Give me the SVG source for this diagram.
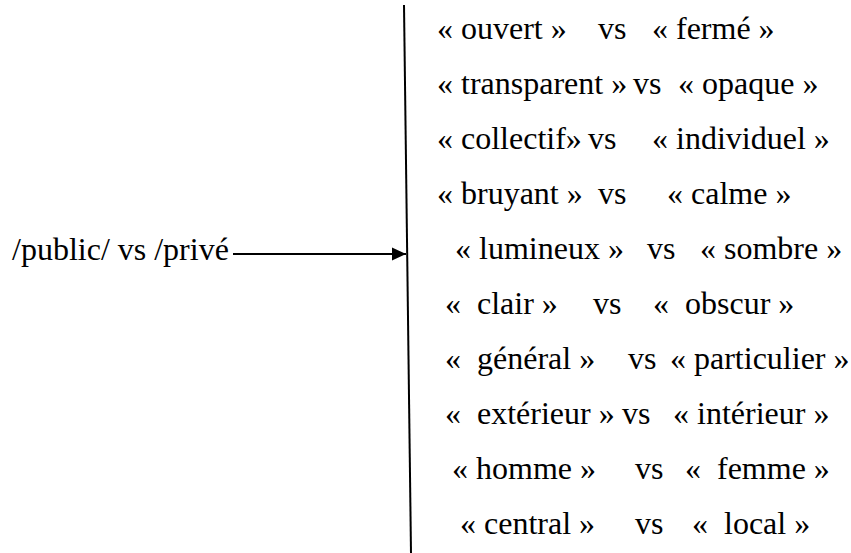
<svg xmlns="http://www.w3.org/2000/svg" width="851" height="553" viewBox="0 0 851 553">
<style>
.t{font-family:'Liberation Serif',serif;font-size:32px;fill:#000}
.ln{stroke:#000;stroke-width:2;fill:none}
</style>
<defs>
<marker id="ah" markerWidth="8" markerHeight="8" refX="7" refY="4" orient="auto" markerUnits="strokeWidth">
<path d="M0,0.8 L7,4 L0,7.2 Z" fill="#000"/>
</marker>
</defs>
<g id="connectors">
<line class="ln" x1="404" y1="5" x2="411" y2="553"/>
<line class="ln" x1="233" y1="254" x2="406" y2="254" marker-end="url(#ah)"/>
</g>
<g id="source"><text class="t" x="12" y="260">/public/ vs /privé</text></g>
<g id="oppositions">
<g id="r1"><text class="t" x="437" y="39">« ouvert »</text><text class="t" x="598" y="39">vs</text><text class="t" x="652" y="39">« fermé »</text></g>
<g id="r2"><text class="t" x="437" y="94">« transparent »</text><text class="t" x="633" y="94">vs</text><text class="t" x="678" y="94">« opaque »</text></g>
<g id="r3"><text class="t" x="437" y="149">« collectif»</text><text class="t" x="588" y="149">vs</text><text class="t" x="652" y="149">« individuel »</text></g>
<g id="r4"><text class="t" x="437" y="204">« bruyant »</text><text class="t" x="598" y="204">vs</text><text class="t" x="667" y="204">« calme »</text></g>
<g id="r5"><text class="t" x="455" y="259">« lumineux »</text><text class="t" x="647" y="259">vs</text><text class="t" x="700" y="259">« sombre »</text></g>
<g id="r6"><text class="t" x="445" y="314" xml:space="preserve">«  clair »</text><text class="t" x="593" y="314">vs</text><text class="t" x="653" y="314" xml:space="preserve">«  obscur »</text></g>
<g id="r7"><text class="t" x="445" y="369" xml:space="preserve">«  général »</text><text class="t" x="628" y="369">vs</text><text class="t" x="670" y="369">« particulier »</text></g>
<g id="r8"><text class="t" x="445" y="424" xml:space="preserve">«  extérieur »</text><text class="t" x="622" y="424">vs</text><text class="t" x="673" y="424">« intérieur »</text></g>
<g id="r9"><text class="t" x="452" y="479">« homme »</text><text class="t" x="635" y="479">vs</text><text class="t" x="685" y="479" xml:space="preserve">«  femme »</text></g>
<g id="r10"><text class="t" x="460" y="534">« central »</text><text class="t" x="635" y="534">vs</text><text class="t" x="692" y="534" xml:space="preserve">«  local »</text></g>
</g>
</svg>
